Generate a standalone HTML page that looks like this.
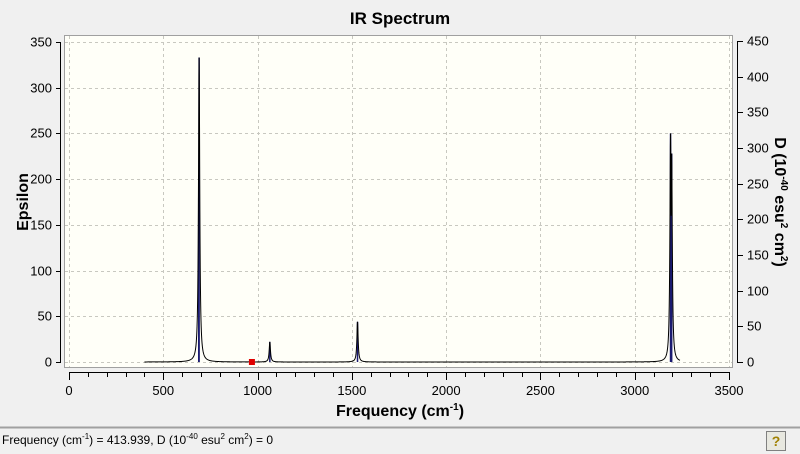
<!DOCTYPE html>
<html><head><style>
body{margin:0;background:#f0f0f0;width:800px;height:454px;overflow:hidden;font-family:"Liberation Sans",sans-serif}
svg{display:block}
svg text{font-family:"Liberation Sans",sans-serif}
</style></head><body>
<svg id="s" width="800" height="454" xmlns="http://www.w3.org/2000/svg">
<rect x="0" y="0" width="800" height="454" fill="#f0f0f0"/>
<text x="400" y="24" text-anchor="middle" font-size="17" font-weight="bold" fill="#000">IR Spectrum</text>
<rect x="64.5" y="35.5" width="668" height="332" fill="#fffff8" stroke="#a0a0a0"/>
<g id="grid" stroke="#c8c8c0" stroke-dasharray="3,3" stroke-width="1"></g>
<g id="axes" stroke="#000" stroke-width="1" fill="none"></g>
<g id="labels" font-size="13" fill="#000"></g>
<g id="data"></g>
<text x="28" y="202" text-anchor="middle" font-size="16" font-weight="bold" transform="rotate(-90 28 202)">Epsilon</text>
<text x="400" y="416" text-anchor="middle" font-size="16" font-weight="bold">Frequency (cm<tspan dy="-6" font-size="10">-1</tspan><tspan dy="6">)</tspan></text>
<text x="775" y="202" text-anchor="middle" font-size="16" font-weight="bold" transform="rotate(90 775 202)">D (10<tspan dy="-6" font-size="10">-40</tspan><tspan dy="6"> esu</tspan><tspan dy="-6" font-size="10">2</tspan><tspan dy="6"> cm</tspan><tspan dy="-6" font-size="10">2</tspan><tspan dy="6">)</tspan></text>
<line x1="0" y1="427.5" x2="800" y2="427.5" stroke="#a0a0a0" stroke-width="2"/>
<text x="2" y="444" font-size="12">Frequency (cm<tspan dy="-5" font-size="8">-1</tspan><tspan dy="5">) = 413.939, D (10</tspan><tspan dy="-5" font-size="8">-40</tspan><tspan dy="5"> esu</tspan><tspan dy="-5" font-size="8">2</tspan><tspan dy="5"> cm</tspan><tspan dy="-5" font-size="8">2</tspan><tspan dy="5">) = 0</tspan></text>
<rect x="766.5" y="431.5" width="19" height="19" fill="#e8e8e0" stroke="#808080"/>
<text x="776" y="446" text-anchor="middle" font-size="14" font-weight="bold" fill="#a08000">?</text>
</svg>
<script>
var NS="http://www.w3.org/2000/svg";
function X(f){return 69+f*660/3500}
function Y(e){return 362-e*320/350}
function el(p,t,a){var e=document.createElementNS(NS,t);for(var k in a)e.setAttribute(k,a[k]);document.getElementById(p).appendChild(e);return e}
for(var f=0;f<=3500;f+=500){var x=Math.round(X(f))+.5;el("grid","line",{x1:x,y1:36,x2:x,y2:367});}
for(var e=0;e<=350;e+=50){var y=Math.round(Y(e))+.5;el("grid","line",{x1:65,y1:y,x2:732,y2:y});}
el("axes","line",{x1:60.5,y1:Y(350),x2:60.5,y2:Y(0)});
for(var e=0;e<=350;e+=50){var y=Math.round(Y(e))+.5;el("axes","line",{x1:56,y1:y,x2:61,y2:y});var t=el("labels","text",{x:52,y:y+4,"text-anchor":"end"});t.textContent=e;}
el("axes","line",{x1:737.5,y1:41,x2:737.5,y2:Y(0)});
for(var d=0;d<=450;d+=50){var y=Math.round(362-d*321/450)+.5;el("axes","line",{x1:737,y1:y,x2:743,y2:y});var t=el("labels","text",{x:747,y:y+4});t.textContent=d;}
el("axes","line",{x1:69,y1:372.5,x2:729,y2:372.5});
for(var f=0;f<=3500;f+=100){var x=Math.round(X(f))+.5;el("axes","line",{x1:x,y1:372,x2:x,y2:f%500?377:380});}
for(var f=0;f<=3500;f+=500){var t=el("labels","text",{x:X(f),y:395,"text-anchor":"middle"});t.textContent=f;}
var peaks=[[690,333],[1065,22],[1530,44],[3190,250],[3196,228]];
var sticks=[[690,333],[688,180],[1065,22],[1530,44],[3190,250],[3196,228]];
sticks.forEach(function(p){el("data","line",{x1:X(p[0]),y1:Y(0),x2:X(p[0]),y2:Y(p[1]),stroke:"#1a1a70","stroke-width":1.5});});
var w=4,d="";
for(var f=400;f<=3240;f+=1){var s=0;peaks.forEach(function(p){s=Math.max(s,p[1]*w*w/((f-p[0])*(f-p[0])+w*w));});d+=(f==400?"M":"L")+X(f).toFixed(2)+","+Y(s).toFixed(2);}
el("data","path",{d:d,fill:"none",stroke:"#000","stroke-width":1});
el("data","rect",{x:X(970)-3,y:Y(0)-3,width:6,height:6,fill:"#e00000"});
</script>
</body></html>
